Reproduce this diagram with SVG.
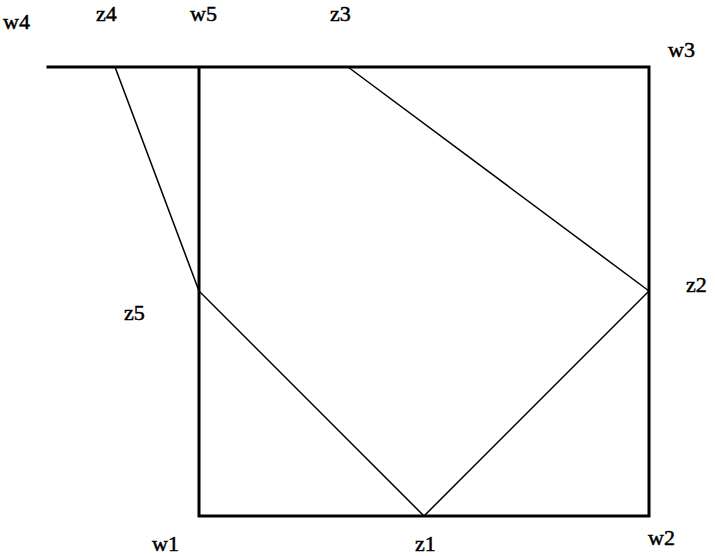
<svg xmlns="http://www.w3.org/2000/svg" width="715" height="556" viewBox="0 0 715 556">
<style>
.frame{fill:none;stroke:#000;stroke-width:3;stroke-linecap:square}
.edge{fill:none;stroke:#000;stroke-width:1.5}
.lbl{stroke:#000;stroke-width:0.5}
</style>
<rect width="715" height="556" fill="#fff"/>
<g id="frame">
<path class="frame" d="M48,67 H649 V516 H199 V67"/>
</g>
<g id="connectors">
<line class="edge" x1="115" y1="67" x2="199" y2="291"/>
<line class="edge" x1="199" y1="291" x2="424" y2="516"/>
<line class="edge" x1="424" y1="516" x2="649" y2="291"/>
<line class="edge" x1="649" y1="291" x2="348" y2="67"/>
</g>
<g id="labels" font-family="Liberation Serif, Times New Roman, serif" font-size="22" fill="#000">
<g id="w4"><text class="lbl" x="3" y="29">w4</text></g>
<g id="z4"><text class="lbl" x="96" y="21">z4</text></g>
<g id="w5"><text class="lbl" x="190" y="21">w5</text></g>
<g id="z3"><text class="lbl" x="330" y="21">z3</text></g>
<g id="w3"><text class="lbl" x="668" y="57">w3</text></g>
<g id="z2"><text class="lbl" x="686" y="292">z2</text></g>
<g id="z5"><text class="lbl" x="124" y="320">z5</text></g>
<g id="w1"><text class="lbl" x="152" y="551">w1</text></g>
<g id="z1"><text class="lbl" x="415" y="551">z1</text></g>
<g id="w2"><text class="lbl" x="648" y="545">w2</text></g>
</g>
</svg>
